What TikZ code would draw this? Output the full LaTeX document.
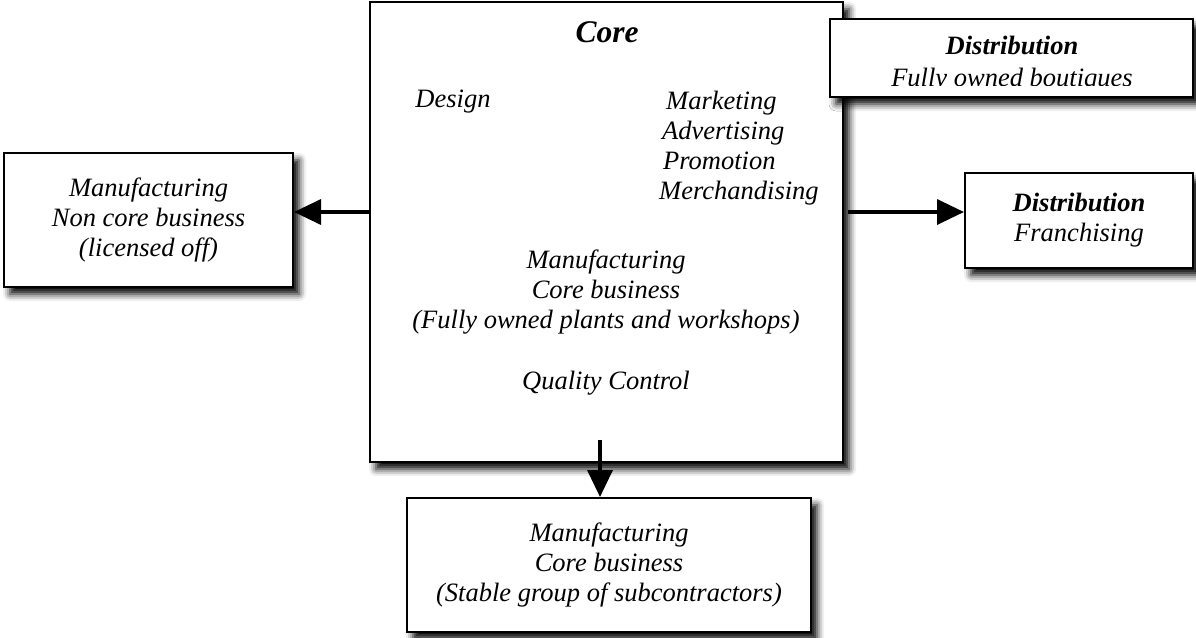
\documentclass[tikz,border=0pt]{standalone}
\usepackage{fontspec}
\setmainfont{Liberation Serif}
\usetikzlibrary{arrows.meta,shadows.blur}

\begin{document}
\begin{tikzpicture}[x=1pt,y=-1pt,
  every node/.style={font=\fontsize{26.5}{30}\selectfont\itshape,inner sep=0pt,align=center},
  box/.style={draw,line width=2pt,fill=white,blur shadow={shadow xshift=6pt,shadow yshift=-7pt,shadow blur radius=7pt,shadow opacity=100}},
  arr/.style={line width=3.5pt,-{Triangle[length=27pt,width=25pt]}}]
\useasboundingbox (0,0) rectangle (1196,637);

% core
\node[box,minimum width=473,minimum height=460] (core) at (606.5,232) {};
\node[font=\fontsize{31.5}{36}\selectfont\bfseries\itshape] (coretitle) at (607,32) {Core};
\node (design) at (453,102) {Design};
\node[anchor=west,align=left] (marketing) at (659,148) {\hspace*{7pt}Marketing\\\hspace*{3pt}Advertising\\\hspace*{4pt}Promotion\\Merchandising};
\node (mfgcore) at (606,292) {Manufacturing\\Core business\\(Fully owned plants and workshops)};
\node (quality) at (606,383) {Quality Control};

% distribution, boutiques
\node[box,minimum width=363,minimum height=78] (dtop) at (1011.5,58) {};
\node[font=\fontsize{26.5}{30}\selectfont\bfseries\itshape] (dtoptitle) at (1012,45) {Distribution};
\node[anchor=base] (dtopsub) at (1012,86) {Fully owned boutiques};
\fill[white] (dtopsub.base west) rectangle (dtopsub.south east);

% outer boxes
\node[box,minimum width=289,minimum height=134] (mleft) at (148.5,220) {Manufacturing\\Non core business\\(licensed off)};
\node[box,minimum width=228,minimum height=95] (dright) at (1079,220.5) {\textbf{Distribution}\\Franchising};
\node[box,minimum width=404,minimum height=134] (mbottom) at (609,565) {Manufacturing\\Core business\\(Stable group of subcontractors)};

% arrows
\coordinate (aL) at (371,212);
\coordinate (aR) at (848,212);
\coordinate (aD) at (600,440);
\draw[arr] (aL) -- (aL -| mleft.east);
\draw[arr] (aR) -- (aR -| dright.west);
\draw[arr] (aD) -- (aD |- mbottom.north);
\end{tikzpicture}
\end{document}
